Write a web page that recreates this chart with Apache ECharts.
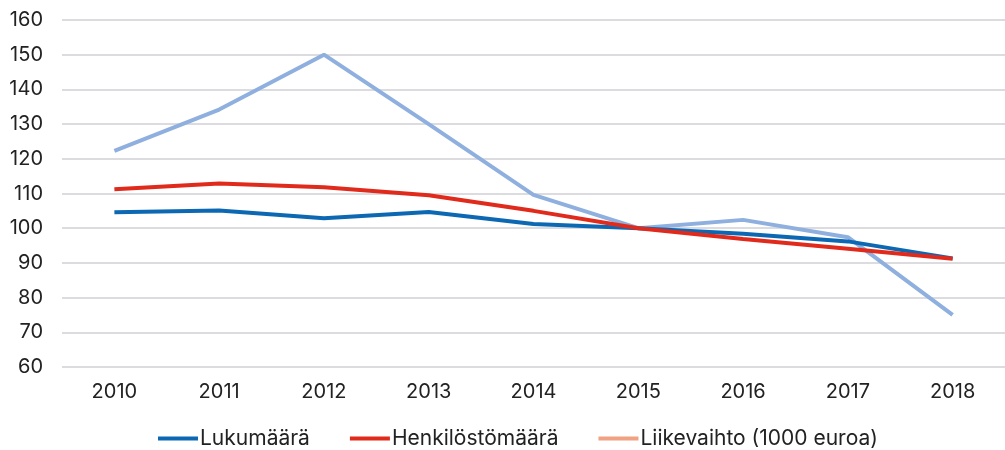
<!DOCTYPE html>
<html><head><meta charset="utf-8">
<script src="https://cdn.jsdelivr.net/npm/echarts@6/dist/echarts.min.js"></script>
<style>html,body{margin:0;padding:0;background:#fff}#c{width:1005px;height:450px}</style>
</head><body><div id="c"></div>
<script>
const years = ['2010','2011','2012','2013','2014','2015','2016','2017','2018'];
const lukumaara = [104.6, 105.1, 102.9, 104.7, 101.2, 100, 98.4, 96.2, 91.3];
const henkilosto = [111.2, 112.9, 111.8, 109.5, 105.0, 100, 96.9, 94.1, 91.2];
const liikevaihto = [122.3, 134.2, 150.0, 130.0, 109.6, 100, 102.4, 97.4, 75.0];
const yTicks = [60, 160, 10];

const font = 'Inter, Roboto, sans-serif';
const chart = echarts.init(document.getElementById('c'));
chart.setOption({
  animation: false,
  grid: {left: 62, top: 20, width: 954, height: 347},
  legend: {
    top: 423, left: 153, itemWidth: 40, itemHeight: 4, itemGap: 40, icon: 'rect',
    textStyle: {fontFamily: font, fontSize: 21, color: '#222', padding: [0,0,0,-3]},
    data: [
      {name: 'Lukumäärä'},
      {name: 'Henkilöstömäärä'},
      {name: 'Liikevaihto (1000 euroa)', itemStyle: {color: '#f0a283'}}
    ]
  },
  xAxis: {
    type: 'category', data: years, boundaryGap: true,
    axisLine: {show: false}, axisTick: {show: false},
    axisLabel: {fontFamily: font, fontSize: 20, color: '#222', margin: 15}
  },
  yAxis: {
    type: 'value', min: yTicks[0], max: yTicks[1], interval: yTicks[2],
    axisLabel: {fontFamily: font, fontSize: 20, color: '#222', margin: 19},
    splitLine: {lineStyle: {color: '#dcdce0', width: 2}}
  },
  series: [
    {name: 'Lukumäärä', type: 'line', data: lukumaara, showSymbol: false, symbol: 'none',
     itemStyle: {color: '#0c68b3'}, lineStyle: {color: '#0c68b3', width: 4}},
    {name: 'Henkilöstömäärä', type: 'line', data: henkilosto, showSymbol: false, symbol: 'none',
     itemStyle: {color: '#e02a1c'}, lineStyle: {color: '#e02a1c', width: 4}},
    {name: 'Liikevaihto (1000 euroa)', type: 'line', data: liikevaihto, showSymbol: false, symbol: 'none',
     itemStyle: {color: '#f0a283'}, lineStyle: {color: '#8fb0df', width: 4}, z: 1}
  ]
});
</script></body></html>
